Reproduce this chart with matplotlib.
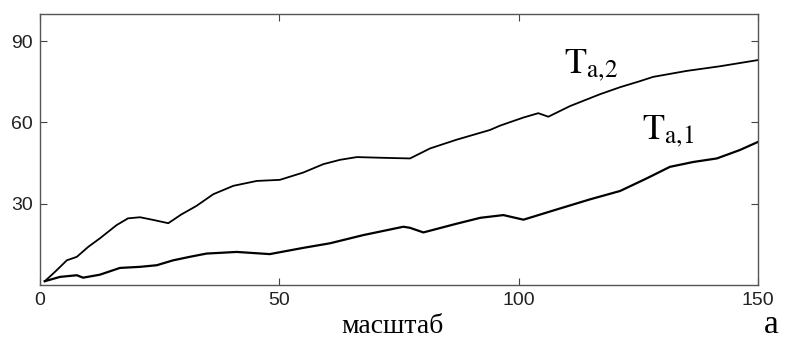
import numpy as np
import matplotlib.pyplot as plt

# масштаб (x) и значения кривых
x_t2 = [1, 3.1, 5.6, 7.7, 10.1, 12.5, 16, 18.4, 20.9, 23.7, 26.8, 29.5, 32.7, 36.2,
        40.4, 45.3, 50.1, 55, 59.2, 62.7, 66.2, 72.4, 77.3, 81.5, 87, 94, 96.1,
        101, 104.1, 106.2, 110.7, 117, 121.2, 125.3, 128.1, 135.1, 142, 150]
t_a2 = [1.4, 4.8, 9.1, 10.4, 14.1, 17.2, 22.1, 24.6, 25, 24, 22.8, 26, 29.2, 33.5,
        36.6, 38.4, 38.8, 41.5, 44.6, 46.2, 47.2, 46.9, 46.7, 50.4, 53.6, 57.2, 58.8,
        61.8, 63.4, 62.1, 66, 70.4, 73, 75.2, 76.8, 79, 80.7, 83]

x_t1 = [1, 4.2, 7.7, 9, 12.5, 16.7, 20.9, 24.4, 27.8, 31.3, 34.8, 41.1, 48, 55,
        60.6, 67.5, 75.9, 77.3, 80.1, 87, 92, 96.8, 101, 108, 114.9, 121.2, 126.7,
        131.6, 136.5, 141.4, 146.2, 150]
t_a1 = [1.4, 3, 3.6, 2.7, 3.8, 6.3, 6.7, 7.3, 9.1, 10.4, 11.6, 12.2, 11.4, 13.7,
        15.4, 18.4, 21.5, 21.1, 19.4, 22.6, 24.8, 25.8, 24.1, 27.9, 31.6, 34.7, 39.3,
        43.6, 45.4, 46.7, 49.8, 52.8]

x_ticks = [0, 50, 100, 150]
y_ticks = [30, 60, 90]

plt.rcParams['mathtext.fontset'] = 'stix'

fig = plt.figure(figsize=(7.86, 3.40), dpi=100)
ax = fig.add_axes([40/786, 1 - 285/340, 718/786, 271/340])

ax.plot(x_t2, t_a2, color='black', lw=1.3)
ax.plot(x_t1, t_a1, color='black', lw=1.6)

ax.set_xlim(0, 150)
ax.set_ylim(0, 100)
ax.set_xticks(x_ticks)
ax.set_yticks(y_ticks)
ax.tick_params(direction='in', length=5, width=0.8, color='#444444',
               top=True, right=True, labelsize=14, pad=5)
for lab in ax.get_xticklabels() + ax.get_yticklabels():
    lab.set_family('Liberation Sans')
    lab.set_color('#222222')
for sp in ax.spines.values():
    sp.set_color('#555555')
    sp.set_linewidth(1.0)

# подписи кривых
ax.text(109.5, 78.3, r'$\mathrm{T}_{\mathrm{a{,}2}}$', fontsize=26, ha='left', va='baseline')
ax.text(125.8, 54, r'$\mathrm{T}_{\mathrm{a{,}1}}$', fontsize=26, ha='left', va='baseline')

fig.text(392/786, 1 - 333/340, 'масштаб', family='Liberation Serif', fontsize=20,
         ha='center', va='baseline')
fig.text(771/786, 1 - 333/340, 'а', family='Liberation Serif', fontsize=24,
         ha='center', va='baseline')

fig.savefig('out.png', dpi=100)
